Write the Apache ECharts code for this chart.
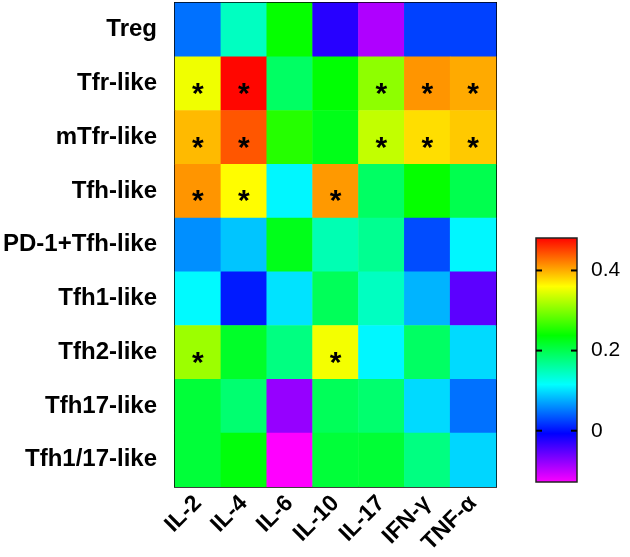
<!DOCTYPE html>
<html>
<head>
<meta charset="utf-8">
<script src="https://cdn.jsdelivr.net/npm/echarts@6/dist/echarts.min.js"></script>
<style>html,body{margin:0;padding:0;background:#fff;}#c{width:630px;height:557px;}</style>
</head>
<body>
<div id="c"></div>
<script>
var cytokines = ['IL-2', 'IL-4', 'IL-6', 'IL-10', 'IL-17', 'IFN-γ', 'TNF-α'];
var cellTypes = ['Treg', 'Tfr-like', 'mTfr-like', 'Tfh-like', 'PD-1+Tfh-like', 'Tfh1-like', 'Tfh2-like', 'Tfh17-like', 'Tfh1/17-like'];
// correlation values, rows = cell types (top to bottom), cols = cytokines
var values = [
  [0.048, 0.145, 0.24, -0.025, -0.09, 0.025, 0.025],
  [0.352, 0.478, 0.19, 0.236, 0.305, 0.41, 0.40],
  [0.392, 0.44, 0.255, 0.226, 0.33, 0.375, 0.385],
  [0.41, 0.36, 0.112, 0.408, 0.19, 0.24, 0.20],
  [0.062, 0.088, 0.225, 0.152, 0.168, 0.03, 0.112],
  [0.113, 0.006, 0.102, 0.195, 0.145, 0.08, -0.05],
  [0.312, 0.218, 0.176, 0.354, 0.112, 0.19, 0.098],
  [0.21, 0.184, -0.078, 0.195, 0.185, 0.098, 0.048],
  [0.21, 0.232, -0.13, 0.21, 0.212, 0.176, 0.096]
];
// significance flags (1 = '*')
var significant = [
  [0, 0, 0, 0, 0, 0, 0],
  [1, 1, 0, 0, 1, 1, 1],
  [1, 1, 0, 0, 1, 1, 1],
  [1, 1, 0, 1, 0, 0, 0],
  [0, 0, 0, 0, 0, 0, 0],
  [0, 0, 0, 0, 0, 0, 0],
  [1, 0, 0, 1, 0, 0, 0],
  [0, 0, 0, 0, 0, 0, 0],
  [0, 0, 0, 0, 0, 0, 0]
];
var colorTicks = [0, 0.2, 0.4];
var scaleMin = -0.128, scaleMax = 0.481;
var palette = ['#FF00FF', '#0000FF', '#00FFFF', '#00FF00', '#FFFF00', '#FF0000'];

var data = [];
for (var r = 0; r < cellTypes.length; r++) {
  for (var c = 0; c < cytokines.length; c++) {
    data.push([c, r, values[r][c]]);
  }
}
var stops = palette.map(function (col, i) { return { offset: i / (palette.length - 1), color: col }; });
var font = '"Liberation Sans", Arial, Helvetica, sans-serif';

var chart = echarts.init(document.getElementById('c'), null, { renderer: 'canvas' });
chart.setOption({
  backgroundColor: '#fff',
  animation: false,
  grid: [
    { left: 175, top: 3, width: 321, height: 484, show: true, borderColor: '#000', borderWidth: 2, backgroundColor: 'transparent' },
    { left: 536, top: 238, width: 41, height: 244, show: false }
  ],
  xAxis: [
    { type: 'category', data: cytokines, gridIndex: 0,
      axisLine: { show: false }, axisTick: { show: false }, splitLine: { show: false },
      axisLabel: { rotate: 45, fontSize: 23, fontWeight: 'bold', color: '#000', fontFamily: font, margin: 13, interval: 0 } },
    { type: 'value', gridIndex: 1, show: false, min: 0, max: 1 }
  ],
  yAxis: [
    { type: 'category', data: cellTypes, gridIndex: 0, inverse: true,
      axisLine: { show: false }, axisTick: { show: false }, splitLine: { show: false },
      axisLabel: { fontSize: 24, fontWeight: 'bold', color: '#000', fontFamily: font, margin: 18, interval: 0 } },
    { type: 'value', gridIndex: 1, position: 'right', min: scaleMin, max: scaleMax,
      axisLine: { show: false }, splitLine: { show: false }, axisTick: { show: false },
      axisLabel: { show: true, fontSize: 21, color: '#000', fontFamily: font, margin: 14, customValues: colorTicks } }
  ],
  visualMap: {
    show: false, type: 'continuous', min: scaleMin, max: scaleMax, seriesIndex: 0,
    inRange: { color: palette }
  },
  series: [{
    type: 'heatmap', xAxisIndex: 0, yAxisIndex: 0, data: data,
    itemStyle: { borderWidth: 0 },
    label: {
      show: true, color: '#000', fontSize: 30, fontWeight: 'bold', fontFamily: font, offset: [0, 11],
      formatter: function (p) { return significant[p.value[1]][p.value[0]] ? '*' : ''; }
    },
    emphasis: { disabled: true }
  }, {
    type: 'custom', xAxisIndex: 1, yAxisIndex: 1, z: 5, silent: true, clip: false,
    data: [[0, scaleMin, 1, scaleMax]],
    encode: { x: [0, 2], y: [1, 3] },
    renderItem: function (params, api) {
      var p0 = api.coord([api.value(0), api.value(3)]);
      var p1 = api.coord([api.value(2), api.value(1)]);
      return { type: 'rect', shape: { x: p0[0], y: p0[1], width: p1[0] - p0[0], height: p1[1] - p0[1] },
        style: { fill: new echarts.graphic.LinearGradient(0, 1, 0, 0, stops), stroke: '#222', lineWidth: 1.5 } };
    }
  }, {
    type: 'scatter', xAxisIndex: 1, yAxisIndex: 1, z: 20, silent: true,
    symbol: 'rect', symbolSize: [6, 2], symbolOffset: [3, 0],
    itemStyle: { color: '#000', opacity: 1 },
    data: colorTicks.map(function (v) { return [0, v]; })
  }, {
    type: 'scatter', xAxisIndex: 1, yAxisIndex: 1, z: 20, silent: true,
    symbol: 'rect', symbolSize: [6, 2], symbolOffset: [-3, 0],
    itemStyle: { color: '#000', opacity: 1 },
    data: colorTicks.map(function (v) { return [1, v]; })
  }]
});
</script>
</body>
</html>
